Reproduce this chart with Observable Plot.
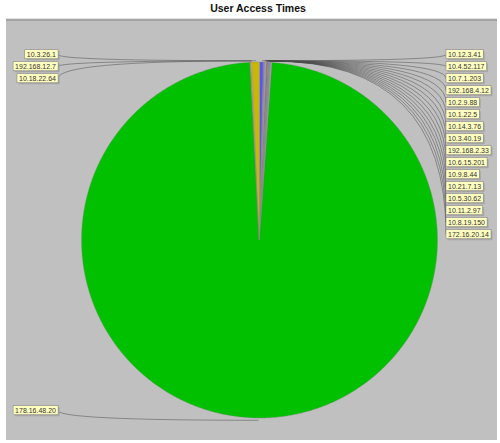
<!DOCTYPE html>
<html><head><meta charset="utf-8">
<script src="https://cdn.jsdelivr.net/npm/d3@7"></script>
<script src="https://cdn.jsdelivr.net/npm/@observablehq/plot@0.6"></script>
<style>
body{margin:0;background:#fff;font-family:"Liberation Sans",Arial,sans-serif;}
#title{position:absolute;left:0;top:2px;width:516px;text-align:center;font-weight:bold;font-size:10.5px;color:#111;}
#panel{position:absolute;left:6px;top:18px;width:491px;height:422px;background:#c0c0c0;}
#edge{position:absolute;left:6px;top:18px;width:491px;height:2px;background:#a4a4a4;border-top:1px solid #e0e0e0;}
#panel svg{position:absolute;left:0;top:0;}
</style></head><body>
<div id="title">User Access Times</div>
<div id="panel"></div>
<div id="edge"></div>
<script>
// slices in clockwise order starting at 12 o'clock
const sliceLabels = [
  "10.12.3.41", "10.4.52.117", "10.7.1.203", "192.168.4.12", "10.2.9.88",
  "10.1.22.5", "10.14.3.76", "10.3.40.19", "192.168.2.33", "10.6.15.201",
  "10.9.8.44", "10.21.7.13", "10.5.30.62", "10.11.2.97", "10.8.19.150",
  "172.16.20.14",
  "178.16.48.20",
  "10.18.22.64", "192.168.12.7", "10.3.26.1"
];
const sliceValues = [
  13, 3, 2, 2, 2, 2, 2, 1, 2, 1, 2, 1, 2, 1, 1, 3,
  3530,
  3, 3, 24
];
const sliceColors = [
  "#5555ff", "#8a6a9a", "#ff55ff", "#55ffff", "#ffafaf", "#808080", "#c00000", "#0000c0",
  "#c0c000", "#c000c0", "#00c0c0", "#ff8080", "#8080ff", "#80ff80", "#a0a0a0", "#ff80ff",
  "#00c000",
  "#ff8c00", "#ffafaf", "#c8b800"
];

const total = d3.sum(sliceValues);
let acc = 0;
const slices = sliceLabels.map((label, i) => {
  const a0 = acc / total * 2 * Math.PI;
  acc += sliceValues[i];
  const a1 = acc / total * 2 * Math.PI;
  const mid = (a0 + a1) / 2;
  return {label, value: sliceValues[i], color: sliceColors[i], a0, a1, mid,
          ax: Math.sin(mid) * 1.01, ay: Math.cos(mid) * 1.01};
});

// wedge outlines, sampled along each arc
const wedgeRows = slices.flatMap(s => {
  const n = Math.max(2, Math.ceil((s.a1 - s.a0) / 0.005));
  return d3.range(n + 1).map(k => {
    const a = s.a0 + (s.a1 - s.a0) * k / n;
    return {slice: s.label, color: s.color, x1: 0, y1: 0, x2: Math.sin(a), y2: Math.cos(a)};
  });
});

// label layout: stack labels on each side, pushing down to avoid overlap
const step = 0.0674;
function layout(side, lx) {
  const arr = slices.filter(s => side > 0 ? Math.sin(s.mid) > 0 : Math.sin(s.mid) <= 0)
    .sort((a, b) => b.ay - a.ay);
  let prev = Infinity;
  arr.forEach(s => {
    const target = Math.cos(s.mid) + 0.045;
    s.ly = Math.min(target, prev - step);
    s.lx = lx;
    s.side = side;
    prev = s.ly;
  });
  return arr;
}
const rightLabels = layout(1, 1.045);
const leftLabels = layout(-1, -1.135);

// link curve: quadratic bend from the pie edge to the label
function bendCurve(context) {
  let pts = [];
  return {
    areaStart() {}, areaEnd() {},
    lineStart() { pts = []; },
    point(x, y) { pts.push([x, y]); },
    lineEnd() {
      const [p0, p1] = pts;
      context.moveTo(p0[0], p0[1]);
      context.quadraticCurveTo(p1[0], p0[1], p1[0], p1[1]);
    }
  };
}

const chart = Plot.plot({
  width: 491, height: 422,
  marginLeft: 75.5, marginRight: 59.5, marginTop: 44, marginBottom: 22,
  x: {domain: [-1, 1], axis: null},
  y: {domain: [-1, 1], axis: null},
  color: {type: "identity"},
  style: {background: "transparent", overflow: "visible", fontFamily: "Liberation Sans, Arial, sans-serif"},
  marks: [
    Plot.area(wedgeRows, {x1: "x1", y1: "y1", x2: "x2", y2: "y2", z: "slice", fill: "color",
      stroke: "#8a8a8a", strokeWidth: 0.4}),
    Plot.link(slices, {x1: "ax", y1: "ay", x2: "lx", y2: "ly", curve: bendCurve,
      stroke: "#4a4a4a", strokeWidth: 0.5}),
    Plot.text(rightLabels, {x: "lx", y: "ly", text: "label", textAnchor: "start", dx: 2,
      fontSize: 7, fill: "#333"}),
    Plot.text(leftLabels, {x: "lx", y: "ly", text: "label", textAnchor: "end", dx: -2,
      fontSize: 7, fill: "#333"})
  ]
});
document.getElementById("panel").append(chart);

// label boxes behind each label text
const NS = "http://www.w3.org/2000/svg";
chart.querySelectorAll('g[aria-label="text"] text').forEach(t => {
  const b = t.getBBox();
  const tr = t.getAttribute("transform");
  const mk = (off, fill, stroke) => {
    const r = document.createElementNS(NS, "rect");
    r.setAttribute("x", b.x - 2 + off);
    r.setAttribute("y", b.y - 1 + off);
    r.setAttribute("width", b.width + 4);
    r.setAttribute("height", b.height + 2);
    r.setAttribute("fill", fill);
    if (stroke) { r.setAttribute("stroke", stroke); r.setAttribute("stroke-width", 0.5); }
    if (tr) r.setAttribute("transform", tr);
    t.parentNode.insertBefore(r, t);
  };
  mk(1.5, "#a6a6a6");
  mk(0, "#ffffc0", "#7a7a7a");
});
</script>
</body></html>
